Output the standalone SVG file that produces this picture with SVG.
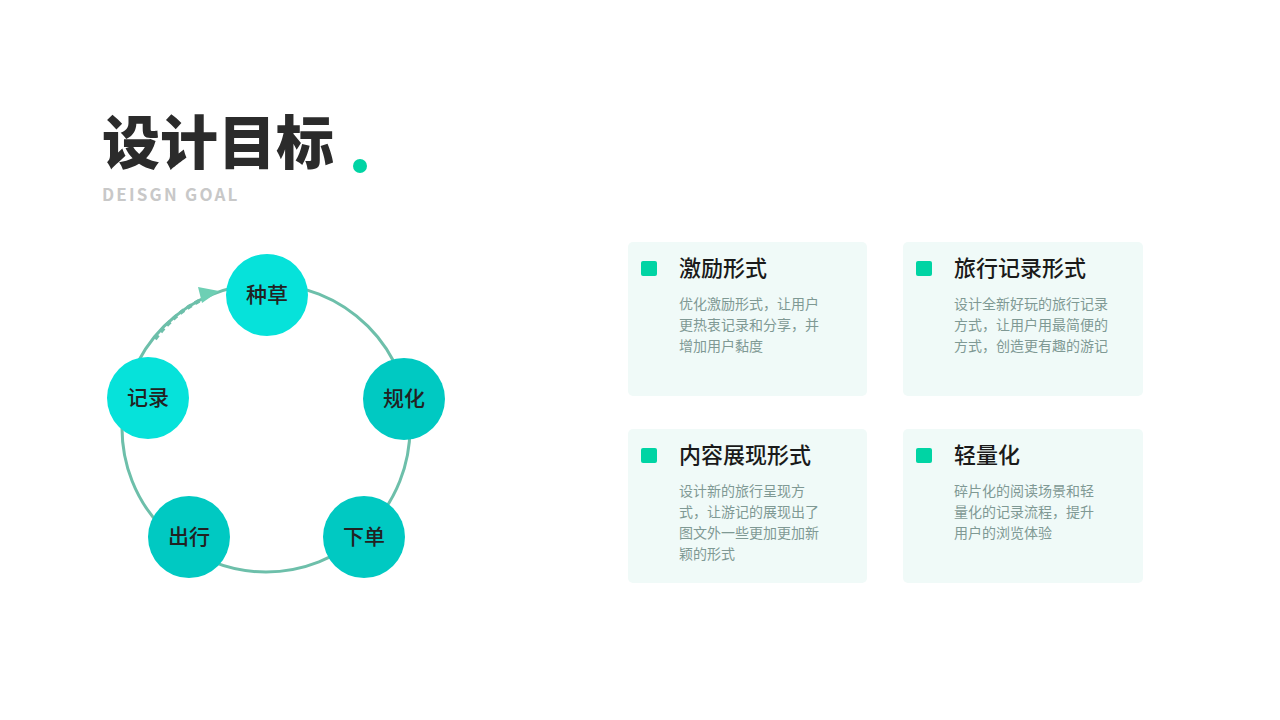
<svg xmlns="http://www.w3.org/2000/svg" width="1280" height="720" viewBox="0 0 1280 720">
<style>
text{font-family:"Noto Sans CJK SC","Noto Sans",sans-serif}
.nl{font-size:21px;font-weight:500;fill:#222;text-anchor:middle}
.card{fill:#f0faf8}
.sq{fill:#00d4a4}
.ct{font-size:22px;font-weight:500;fill:#1a1a1a}
.cb{font-size:14px;fill:#7f9994}
</style>
<rect width="1280" height="720" fill="#fff"/>
<text x="102" y="164" font-size="58" font-weight="900" fill="#2b2b2b">设计目标</text>
<circle cx="360" cy="166" r="7" fill="#00d4a4"/>
<text x="102" y="201" font-family="Liberation Sans,sans-serif" font-size="17" font-weight="700" fill="#c8c8c8" letter-spacing="2.2">DEISGN GOAL</text>
<g id="connectors">
<circle cx="266" cy="428" r="144" fill="none" stroke="#6dbfaa" stroke-width="3"/>
<path d="M155 339 Q175 312 205 298" fill="none" stroke="#6dbfaa" stroke-width="4" stroke-dasharray="5 4"/>
<polygon points="219,291 198,287 202,303" fill="#6dcfb4"/>
</g>
<g id="n1"><circle cx="267" cy="295" r="41" fill="#06e2da"/><text class="nl" x="267" y="302">种草</text></g>
<g id="n2"><circle cx="404" cy="399" r="41" fill="#00c9c2"/><text class="nl" x="404" y="406">规化</text></g>
<g id="n3"><circle cx="364" cy="537" r="41" fill="#00c9c2"/><text class="nl" x="364" y="544">下单</text></g>
<g id="n4"><circle cx="189" cy="537" r="41" fill="#00c9c2"/><text class="nl" x="189" y="544">出行</text></g>
<g id="n5"><circle cx="148" cy="398" r="41" fill="#06e2da"/><text class="nl" x="148" y="405">记录</text></g>
<g id="c1"><rect class="card" x="628" y="242" width="239" height="154" rx="5"/><rect class="sq" x="641" y="261" width="16" height="15" rx="2"/>
<text class="ct" x="679" y="276">激励形式</text>
<text class="cb" x="679" y="309">优化激励形式，让用户</text><text class="cb" x="679" y="330">更热衷记录和分享，并</text><text class="cb" x="679" y="351">增加用户黏度</text></g>
<g id="c2"><rect class="card" x="903" y="242" width="240" height="154" rx="5"/><rect class="sq" x="916" y="261" width="16" height="15" rx="2"/>
<text class="ct" x="954" y="276">旅行记录形式</text>
<text class="cb" x="954" y="309">设计全新好玩的旅行记录</text><text class="cb" x="954" y="330">方式，让用户用最简便的</text><text class="cb" x="954" y="351">方式，创造更有趣的游记</text></g>
<g id="c3"><rect class="card" x="628" y="429" width="239" height="154" rx="5"/><rect class="sq" x="641" y="448" width="16" height="15" rx="2"/>
<text class="ct" x="679" y="463">内容展现形式</text>
<text class="cb" x="679" y="496">设计新的旅行呈现方</text><text class="cb" x="679" y="517">式，让游记的展现出了</text><text class="cb" x="679" y="538">图文外一些更加更加新</text><text class="cb" x="679" y="559">颖的形式</text></g>
<g id="c4"><rect class="card" x="903" y="429" width="240" height="154" rx="5"/><rect class="sq" x="916" y="448" width="16" height="15" rx="2"/>
<text class="ct" x="954" y="463">轻量化</text>
<text class="cb" x="954" y="496">碎片化的阅读场景和轻</text><text class="cb" x="954" y="517">量化的记录流程，提升</text><text class="cb" x="954" y="538">用户的浏览体验</text></g>
</svg>
